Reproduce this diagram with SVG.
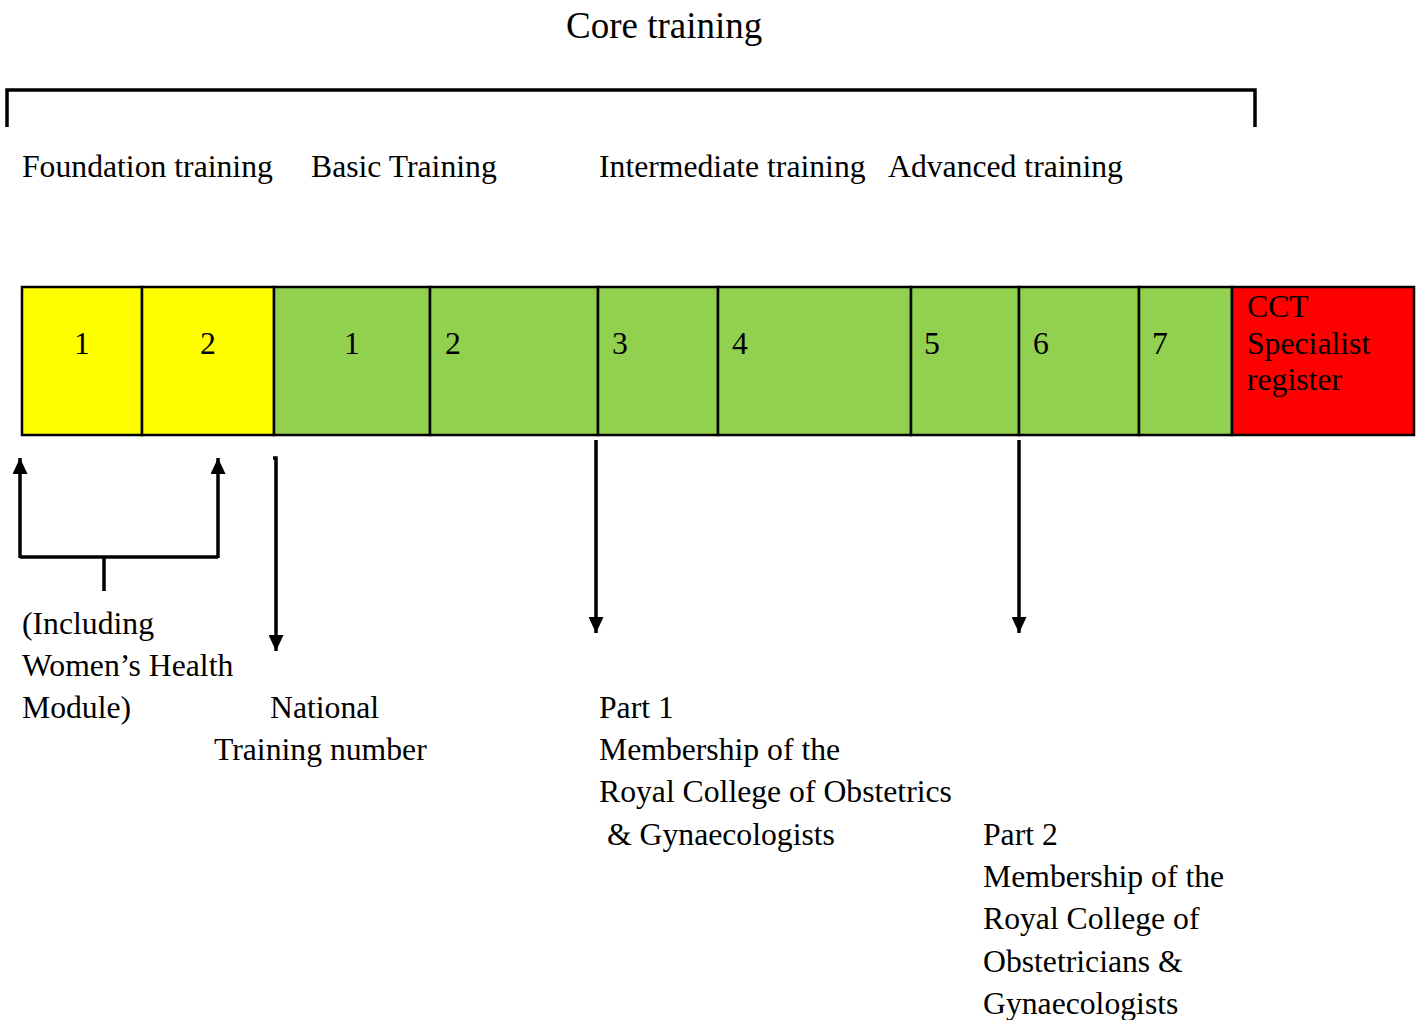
<svg xmlns="http://www.w3.org/2000/svg" width="1423" height="1020" viewBox="0 0 1423 1020">
<style>
text { font-family: "Liberation Serif", "Times New Roman", serif; font-size: 31.7px; fill: #000; }
.title { font-size: 37px; }
.ln { stroke: #000; stroke-width: 3.5; fill: none; }
.cell { stroke: #000; stroke-width: 2.5; }
.y { fill: #FFFF00; }
.g { fill: #92D050; }
.r { fill: #FF0000; }
</style>
<defs>
<marker id="ah" viewBox="0 0 16 15" refX="16" refY="7.5" markerWidth="16" markerHeight="15" markerUnits="userSpaceOnUse" orient="auto">
<path d="M0,0 L16,7.5 L0,15 z" fill="#000"/>
</marker>
</defs>
<rect width="1423" height="1020" fill="#fff"/>
<g id="header">
<text class="title" x="566" y="38">Core training</text>
<path class="ln" d="M7,127 V90 H1255 V127"/>
<text x="22" y="177">Foundation training</text>
<text x="311" y="177">Basic Training</text>
<text x="599" y="177">Intermediate training</text>
<text x="888" y="177">Advanced training</text>
</g>
<g id="bar">
<g id="f1"><rect class="cell y" x="22" y="287" width="120" height="148"/><text x="82" y="354" text-anchor="middle">1</text></g>
<g id="f2"><rect class="cell y" x="142" y="287" width="132" height="148"/><text x="208" y="354" text-anchor="middle">2</text></g>
<g id="s1"><rect class="cell g" x="274" y="287" width="156" height="148"/><text x="352" y="354" text-anchor="middle">1</text></g>
<g id="s2"><rect class="cell g" x="430" y="287" width="168" height="148"/><text x="445" y="354">2</text></g>
<g id="s3"><rect class="cell g" x="598" y="287" width="120" height="148"/><text x="612" y="354">3</text></g>
<g id="s4"><rect class="cell g" x="718" y="287" width="193" height="148"/><text x="732" y="354">4</text></g>
<g id="s5"><rect class="cell g" x="911" y="287" width="108" height="148"/><text x="924" y="354">5</text></g>
<g id="s6"><rect class="cell g" x="1019" y="287" width="120" height="148"/><text x="1033" y="354">6</text></g>
<g id="s7"><rect class="cell g" x="1139" y="287" width="93" height="148"/><text x="1152" y="354">7</text></g>
<g id="cct"><rect class="cell r" x="1232" y="287" width="182" height="148"/>
<text x="1247" y="317">CCT</text><text x="1247" y="354">Specialist</text><text x="1247" y="390">register</text></g>
</g>
<g id="connectors">
<path class="ln" d="M20,558 V458" marker-end="url(#ah)"/>
<path class="ln" d="M218,558 V458" marker-end="url(#ah)"/>
<path class="ln" d="M20,557 H218"/>
<path class="ln" d="M104,557 V591"/>
<path class="ln" d="M273,458 H276 V651" marker-end="url(#ah)"/>
<path class="ln" d="M596,440 V633" marker-end="url(#ah)"/>
<path class="ln" d="M1019,440 V633" marker-end="url(#ah)"/>
</g>
<g id="labels">
<text x="22" y="634">(Including</text>
<text x="22" y="676">Women’s Health</text>
<text x="22" y="718">Module)</text>
<text x="270" y="718">National</text>
<text x="214" y="760">Training number</text>
<text x="599" y="718">Part 1</text>
<text x="599" y="760">Membership of the</text>
<text x="599" y="802">Royal College of Obstetrics</text>
<text x="607" y="845">&amp; Gynaecologists</text>
<text x="983" y="845">Part 2</text>
<text x="983" y="887">Membership of the</text>
<text x="983" y="929">Royal College of</text>
<text x="983" y="972">Obstetricians &amp;</text>
<text x="983" y="1014">Gynaecologists</text>
</g>
</svg>
